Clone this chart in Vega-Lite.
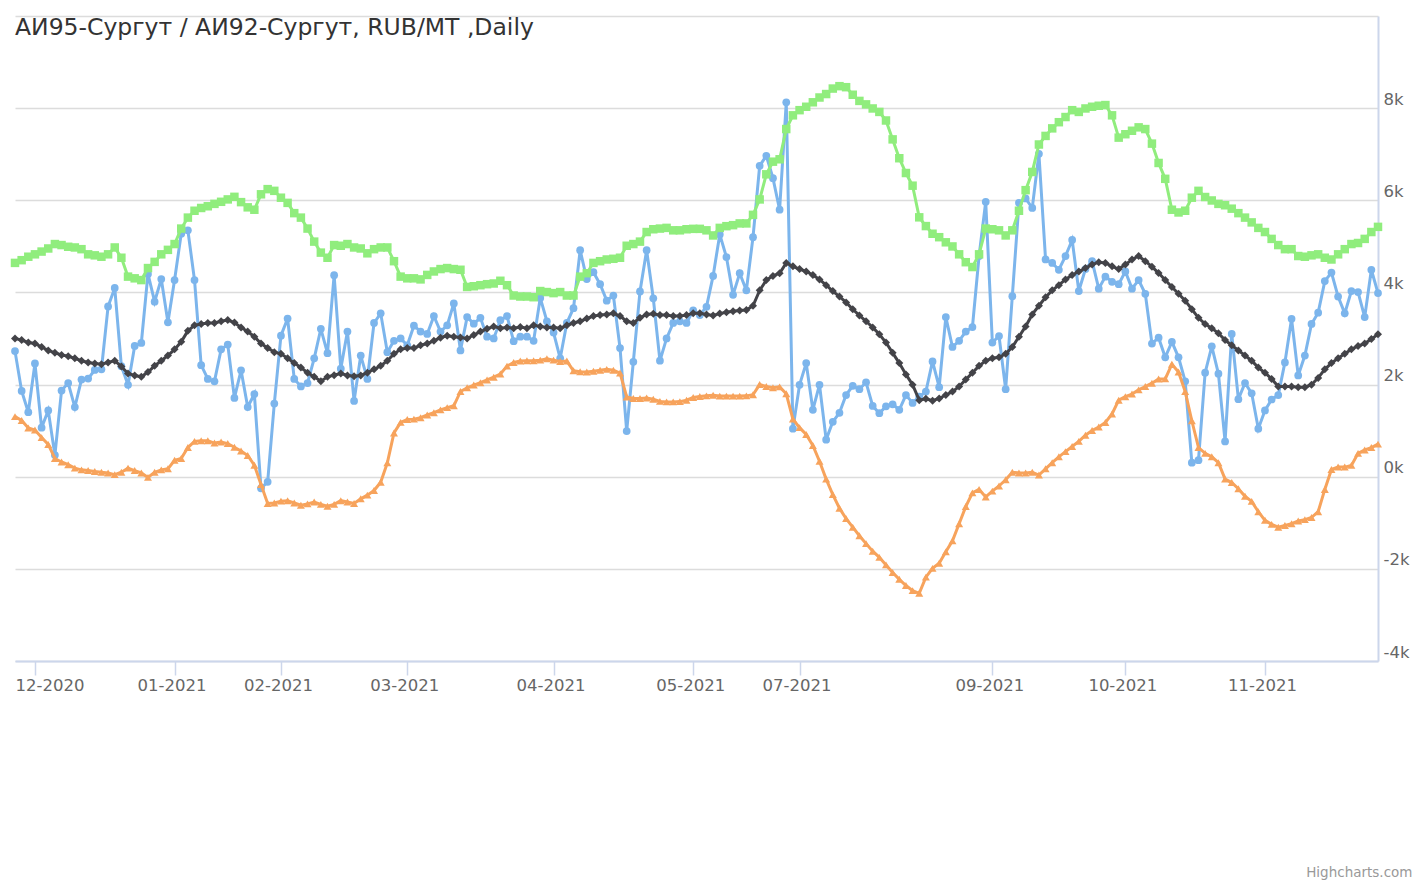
{
"$schema":"https://vega.github.io/schema/vega-lite/v6.json",
"width":1363,"height":645,
"autosize":{"type":"none"},
"padding":{"left":15,"top":16,"right":49,"bottom":222},
"background":"white",
"config":{"view":{"stroke":null},"font":"DejaVu Sans"},
"title":{"text":"АИ95-Сургут / АИ92-Сургут, RUB/MT ,Daily","anchor":"start","frame":"group","fontSize":23.5,"fontWeight":"normal","color":"#333333","font":"DejaVu Sans","baseline":"alphabetic","offset":-17,"dy":25},
"data":{"values":[
{"i":0,"b":2726,"k":3002,"g":4641,"o":1304},
{"i":1,"b":1862,"k":2965,"g":4700,"o":1221},
{"i":2,"b":1400,"k":2913,"g":4775,"o":1057},
{"i":3,"b":2458,"k":2890,"g":4827,"o":1013},
{"i":4,"b":1065,"k":2816,"g":4887,"o":849},
{"i":5,"b":1438,"k":2741,"g":4954,"o":700},
{"i":6,"b":469,"k":2689,"g":5050,"o":395},
{"i":7,"b":1870,"k":2644,"g":5028,"o":320},
{"i":8,"b":2034,"k":2615,"g":4991,"o":261},
{"i":9,"b":1512,"k":2570,"g":4976,"o":186},
{"i":10,"b":2108,"k":2518,"g":4939,"o":149},
{"i":11,"b":2130,"k":2481,"g":4827,"o":134},
{"i":12,"b":2317,"k":2458,"g":4805,"o":112},
{"i":13,"b":2332,"k":2443,"g":4775,"o":97},
{"i":14,"b":3695,"k":2481,"g":4827,"o":82},
{"i":15,"b":4097,"k":2518,"g":4976,"o":45},
{"i":16,"b":2400,"k":2391,"g":4753,"o":97},
{"i":17,"b":1996,"k":2242,"g":4343,"o":186},
{"i":18,"b":2838,"k":2198,"g":4306,"o":134},
{"i":19,"b":2905,"k":2168,"g":4268,"o":82},
{"i":20,"b":4402,"k":2272,"g":4529,"o":-15},
{"i":21,"b":3799,"k":2406,"g":4663,"o":97},
{"i":22,"b":4291,"k":2518,"g":4827,"o":149},
{"i":23,"b":3352,"k":2630,"g":4924,"o":171},
{"i":24,"b":4268,"k":2764,"g":5050,"o":358},
{"i":25,"b":5274,"k":2927,"g":5386,"o":395},
{"i":26,"b":5348,"k":3166,"g":5624,"o":633},
{"i":27,"b":4268,"k":3285,"g":5773,"o":767},
{"i":28,"b":2421,"k":3315,"g":5833,"o":782},
{"i":29,"b":2123,"k":3337,"g":5870,"o":782},
{"i":30,"b":2071,"k":3337,"g":5922,"o":730},
{"i":31,"b":2764,"k":3374,"g":5967,"o":752},
{"i":32,"b":2868,"k":3400,"g":6019,"o":720},
{"i":33,"b":1710,"k":3345,"g":6075,"o":640},
{"i":34,"b":2309,"k":3240,"g":5960,"o":560},
{"i":35,"b":1512,"k":3151,"g":5847,"o":460},
{"i":36,"b":1795,"k":3039,"g":5795,"o":250},
{"i":37,"b":-253,"k":2890,"g":6130,"o":-170},
{"i":38,"b":-112,"k":2793,"g":6242,"o":-580},
{"i":39,"b":1587,"k":2704,"g":6205,"o":-570},
{"i":40,"b":3062,"k":2667,"g":6056,"o":-530},
{"i":41,"b":3434,"k":2570,"g":5944,"o":-520},
{"i":42,"b":2123,"k":2466,"g":5721,"o":-570},
{"i":43,"b":1959,"k":2369,"g":5624,"o":-620},
{"i":44,"b":2034,"k":2257,"g":5386,"o":-590},
{"i":45,"b":2570,"k":2168,"g":5103,"o":-550},
{"i":46,"b":3211,"k":2071,"g":4864,"o":-600},
{"i":47,"b":2682,"k":2168,"g":4753,"o":-640},
{"i":48,"b":4373,"k":2205,"g":5028,"o":-600},
{"i":49,"b":2346,"k":2242,"g":5013,"o":-520},
{"i":50,"b":3151,"k":2198,"g":5050,"o":-550},
{"i":51,"b":1646,"k":2183,"g":4976,"o":-580},
{"i":52,"b":2630,"k":2198,"g":4954,"o":-480},
{"i":53,"b":2123,"k":2257,"g":4849,"o":-400},
{"i":54,"b":3337,"k":2332,"g":4939,"o":-300},
{"i":55,"b":3546,"k":2406,"g":4976,"o":-120},
{"i":56,"b":2704,"k":2518,"g":4976,"o":300},
{"i":57,"b":2950,"k":2667,"g":4678,"o":950},
{"i":58,"b":3002,"k":2764,"g":4343,"o":1180},
{"i":59,"b":2853,"k":2793,"g":4306,"o":1240},
{"i":60,"b":3278,"k":2793,"g":4306,"o":1250},
{"i":61,"b":3151,"k":2853,"g":4283,"o":1280},
{"i":62,"b":3099,"k":2890,"g":4380,"o":1340},
{"i":63,"b":3486,"k":2950,"g":4455,"o":1390},
{"i":64,"b":3151,"k":3017,"g":4507,"o":1450},
{"i":65,"b":3285,"k":3062,"g":4529,"o":1500},
{"i":66,"b":3762,"k":3039,"g":4507,"o":1540},
{"i":67,"b":2741,"k":3020,"g":4492,"o":1850},
{"i":68,"b":3464,"k":3000,"g":4119,"o":1930},
{"i":69,"b":3322,"k":3077,"g":4134,"o":1990},
{"i":70,"b":3449,"k":3151,"g":4157,"o":2040},
{"i":71,"b":3039,"k":3210,"g":4179,"o":2100},
{"i":72,"b":3002,"k":3263,"g":4194,"o":2160},
{"i":73,"b":3397,"k":3225,"g":4253,"o":2230},
{"i":74,"b":3486,"k":3240,"g":4157,"o":2400},
{"i":75,"b":2942,"k":3225,"g":3933,"o":2480},
{"i":76,"b":3039,"k":3248,"g":3911,"o":2510},
{"i":77,"b":3039,"k":3225,"g":3911,"o":2518},
{"i":78,"b":2950,"k":3285,"g":3896,"o":2518},
{"i":79,"b":3881,"k":3263,"g":4030,"o":2530},
{"i":80,"b":3374,"k":3240,"g":4008,"o":2560},
{"i":81,"b":3129,"k":3240,"g":3985,"o":2530},
{"i":82,"b":2570,"k":3225,"g":4008,"o":2500},
{"i":83,"b":3337,"k":3285,"g":3933,"o":2510},
{"i":84,"b":3657,"k":3337,"g":3933,"o":2300},
{"i":85,"b":4916,"k":3374,"g":4343,"o":2280},
{"i":86,"b":4291,"k":3434,"g":4417,"o":2272},
{"i":87,"b":4440,"k":3486,"g":4641,"o":2290},
{"i":88,"b":4179,"k":3508,"g":4678,"o":2310},
{"i":89,"b":3821,"k":3523,"g":4715,"o":2330},
{"i":90,"b":3933,"k":3546,"g":4730,"o":2310},
{"i":91,"b":2793,"k":3486,"g":4753,"o":2250},
{"i":92,"b":991,"k":3374,"g":5013,"o":1730},
{"i":93,"b":2495,"k":3337,"g":5050,"o":1698},
{"i":94,"b":4022,"k":3449,"g":5103,"o":1698},
{"i":95,"b":4916,"k":3523,"g":5311,"o":1710},
{"i":96,"b":3873,"k":3538,"g":5371,"o":1680},
{"i":97,"b":2518,"k":3508,"g":5386,"o":1635},
{"i":98,"b":3002,"k":3508,"g":5401,"o":1624},
{"i":99,"b":3337,"k":3486,"g":5348,"o":1624},
{"i":100,"b":3374,"k":3486,"g":5348,"o":1630},
{"i":101,"b":3337,"k":3508,"g":5371,"o":1660},
{"i":102,"b":3613,"k":3550,"g":5380,"o":1720},
{"i":103,"b":3509,"k":3550,"g":5380,"o":1740},
{"i":104,"b":3687,"k":3520,"g":5348,"o":1755},
{"i":105,"b":4358,"k":3500,"g":5237,"o":1770},
{"i":106,"b":5259,"k":3540,"g":5401,"o":1750},
{"i":107,"b":4767,"k":3570,"g":5438,"o":1750},
{"i":108,"b":3948,"k":3590,"g":5460,"o":1750},
{"i":109,"b":4417,"k":3610,"g":5498,"o":1750},
{"i":110,"b":4045,"k":3620,"g":5498,"o":1755},
{"i":111,"b":5199,"k":3710,"g":5684,"o":1780},
{"i":112,"b":6749,"k":4045,"g":6019,"o":2000},
{"i":113,"b":6965,"k":4268,"g":6563,"o":1960},
{"i":114,"b":6481,"k":4358,"g":6838,"o":1930},
{"i":115,"b":5795,"k":4417,"g":6890,"o":1950},
{"i":116,"b":8127,"k":4640,"g":7546,"o":1800},
{"i":117,"b":1043,"k":4566,"g":7844,"o":1251},
{"i":118,"b":1996,"k":4507,"g":7956,"o":1065},
{"i":119,"b":2466,"k":4455,"g":8030,"o":916},
{"i":120,"b":1453,"k":4380,"g":8127,"o":678},
{"i":121,"b":1996,"k":4283,"g":8231,"o":335},
{"i":122,"b":805,"k":4157,"g":8306,"o":-52},
{"i":123,"b":1192,"k":4030,"g":8425,"o":-387},
{"i":124,"b":1386,"k":3911,"g":8477,"o":-685},
{"i":125,"b":1773,"k":3784,"g":8455,"o":-909},
{"i":126,"b":1974,"k":3635,"g":8291,"o":-1095},
{"i":127,"b":1899,"k":3501,"g":8157,"o":-1281},
{"i":128,"b":2049,"k":3374,"g":8082,"o":-1452},
{"i":129,"b":1535,"k":3240,"g":7993,"o":-1616},
{"i":130,"b":1378,"k":3091,"g":7918,"o":-1750},
{"i":131,"b":1527,"k":2913,"g":7732,"o":-1914},
{"i":132,"b":1572,"k":2689,"g":7322,"o":-2078},
{"i":133,"b":1453,"k":2466,"g":6913,"o":-2227},
{"i":134,"b":1773,"k":2220,"g":6592,"o":-2361},
{"i":135,"b":1602,"k":1996,"g":6317,"o":-2473},
{"i":136,"b":1736,"k":1661,"g":5630,"o":-2530},
{"i":137,"b":1847,"k":1690,"g":5440,"o":-2180},
{"i":138,"b":2503,"k":1650,"g":5274,"o":-1989},
{"i":139,"b":1944,"k":1698,"g":5199,"o":-1877},
{"i":140,"b":3464,"k":1773,"g":5088,"o":-1631},
{"i":141,"b":2816,"k":1847,"g":4998,"o":-1393},
{"i":142,"b":2950,"k":1959,"g":4827,"o":-1020},
{"i":143,"b":3151,"k":2108,"g":4656,"o":-648},
{"i":144,"b":3248,"k":2257,"g":4551,"o":-350},
{"i":145,"b":4790,"k":2406,"g":4827,"o":-276},
{"i":146,"b":5967,"k":2518,"g":5386,"o":-439},
{"i":147,"b":2913,"k":2570,"g":5371,"o":-313},
{"i":148,"b":3054,"k":2592,"g":5348,"o":-201},
{"i":149,"b":1899,"k":2667,"g":5237,"o":-67},
{"i":150,"b":3918,"k":2816,"g":5348,"o":97},
{"i":151,"b":5944,"k":3039,"g":5773,"o":82},
{"i":152,"b":6041,"k":3263,"g":6220,"o":82},
{"i":153,"b":5833,"k":3523,"g":6615,"o":97},
{"i":154,"b":7010,"k":3710,"g":7211,"o":37},
{"i":155,"b":4715,"k":3896,"g":7397,"o":171},
{"i":156,"b":4641,"k":4045,"g":7561,"o":305},
{"i":157,"b":4492,"k":4157,"g":7695,"o":432},
{"i":158,"b":4790,"k":4283,"g":7807,"o":544},
{"i":159,"b":5140,"k":4380,"g":7956,"o":656},
{"i":160,"b":4030,"k":4455,"g":7918,"o":767},
{"i":161,"b":4507,"k":4529,"g":7993,"o":901},
{"i":162,"b":4678,"k":4604,"g":8030,"o":1005},
{"i":163,"b":4082,"k":4656,"g":8052,"o":1080},
{"i":164,"b":4343,"k":4641,"g":8067,"o":1177},
{"i":165,"b":4231,"k":4566,"g":7844,"o":1363},
{"i":166,"b":4179,"k":4507,"g":7360,"o":1661},
{"i":167,"b":4455,"k":4604,"g":7434,"o":1736},
{"i":168,"b":4082,"k":4715,"g":7509,"o":1795},
{"i":169,"b":4268,"k":4790,"g":7583,"o":1885},
{"i":170,"b":3970,"k":4678,"g":7546,"o":1959},
{"i":171,"b":2891,"k":4560,"g":7230,"o":2030},
{"i":172,"b":3017,"k":4420,"g":6810,"o":2120},
{"i":173,"b":2592,"k":4268,"g":6466,"o":2123},
{"i":174,"b":2927,"k":4119,"g":5795,"o":2443},
{"i":175,"b":2592,"k":3970,"g":5736,"o":2272},
{"i":176,"b":2071,"k":3821,"g":5773,"o":1847},
{"i":177,"b":305,"k":3635,"g":6056,"o":1214},
{"i":178,"b":358,"k":3449,"g":6205,"o":633},
{"i":179,"b":2257,"k":3315,"g":6071,"o":507},
{"i":180,"b":2831,"k":3225,"g":5996,"o":432},
{"i":181,"b":2235,"k":3114,"g":5922,"o":305},
{"i":182,"b":767,"k":2965,"g":5892,"o":-52},
{"i":183,"b":3099,"k":2853,"g":5818,"o":-127},
{"i":184,"b":1683,"k":2741,"g":5721,"o":-261},
{"i":185,"b":2034,"k":2630,"g":5624,"o":-425},
{"i":186,"b":1810,"k":2518,"g":5520,"o":-536},
{"i":187,"b":1043,"k":2369,"g":5401,"o":-760},
{"i":188,"b":1438,"k":2257,"g":5311,"o":-946},
{"i":189,"b":1676,"k":2123,"g":5162,"o":-1035},
{"i":190,"b":1773,"k":1959,"g":5028,"o":-1095},
{"i":191,"b":2481,"k":1959,"g":4939,"o":-1058},
{"i":192,"b":3427,"k":1959,"g":4939,"o":-1020},
{"i":193,"b":2198,"k":1944,"g":4790,"o":-961},
{"i":194,"b":2630,"k":1944,"g":4775,"o":-931},
{"i":195,"b":3315,"k":1996,"g":4805,"o":-886},
{"i":196,"b":3561,"k":2145,"g":4827,"o":-760},
{"i":197,"b":4246,"k":2332,"g":4753,"o":-276},
{"i":198,"b":4432,"k":2466,"g":4715,"o":156},
{"i":199,"b":3911,"k":2570,"g":4827,"o":209},
{"i":200,"b":3546,"k":2667,"g":4939,"o":209},
{"i":201,"b":4030,"k":2764,"g":5050,"o":246},
{"i":202,"b":4008,"k":2838,"g":5073,"o":507},
{"i":203,"b":3464,"k":2890,"g":5162,"o":581},
{"i":204,"b":4492,"k":2987,"g":5311,"o":633},
{"i":205,"b":3985,"k":3091,"g":5423,"o":708}
]},
"transform":[{"fold":["b","k","g","o"],"as":["s","v"]}],
"encoding":{
 "x":{"field":"i","type":"quantitative","scale":{"domain":[0,205],"nice":false,"zero":false},
  "axis":{"values":[3,24,40,59,81,102,118,147,167,188],
   "labelExpr":"datum.value==3?'12-2020':datum.value==24?'01-2021':datum.value==40?'02-2021':datum.value==59?'03-2021':datum.value==81?'04-2021':datum.value==102?'05-2021':datum.value==118?'07-2021':datum.value==147?'09-2021':datum.value==167?'10-2021':'11-2021'",
   "grid":false,"domainColor":"#ccd6eb","domainWidth":2,"tickColor":"#ccd6eb","tickSize":14,"tickWidth":1.5,
   "labelFontSize":16.5,"labelColor":"#666666","labelPadding":2,"labelFont":"DejaVu Sans","labelFlush":false,"labelOverlap":false,
   "labelAlign":{"condition":{"test":"datum.value==3","value":"left"},"value":"center"},
   "labelOffset":{"condition":{"test":"datum.value==3","value":-20},"value":-3},
   "title":"Highcharts.com","titleX":1397,"titleY":215,"titleAlign":"right","titleBaseline":"alphabetic","titleAngle":0,
   "titleFontSize":13.5,"titleColor":"#999999","titleFontWeight":"normal","titleFont":"DejaVu Sans"}},
 "y":{"field":"v","type":"quantitative","scale":{"domain":[-4000,10000],"nice":false,"zero":false},
  "axis":{"orient":"right","values":[-4000,-2000,0,2000,4000,6000,8000,10000],
   "labelExpr":"datum.value==10000?'':(datum.value/1000)+'k'","title":null,
   "grid":true,"gridColor":"#dcdcdc","gridWidth":1.5,"domainColor":"#ccd6eb","domainWidth":2,"ticks":false,
   "labelPadding":5,"labelFontSize":16.5,"labelColor":"#666666","labelFont":"DejaVu Sans","labelBaseline":"middle","labelOffset":-9,"labelAlign":"left"}}
},
"layer":[
 {"transform":[{"filter":"datum.s==='b'"}],"mark":{"type":"line","color":"#7cb5ec","strokeWidth":3,"point":{"filled":true,"shape":"circle","size":60,"color":"#7cb5ec","opacity":1}}},
 {"transform":[{"filter":"datum.s==='k'"}],"mark":{"type":"line","color":"#434348","strokeWidth":3,"point":{"filled":true,"shape":"diamond","size":64,"color":"#434348","opacity":1}}},
 {"transform":[{"filter":"datum.s==='g'"}],"mark":{"type":"line","color":"#90ed7d","strokeWidth":3,"point":{"filled":true,"shape":"square","size":72,"color":"#90ed7d","opacity":1}}},
 {"transform":[{"filter":"datum.s==='o'"}],"mark":{"type":"line","color":"#f7a35c","strokeWidth":3,"point":{"filled":true,"shape":"triangle-up","size":64,"color":"#f7a35c","opacity":1}}}
]
}
